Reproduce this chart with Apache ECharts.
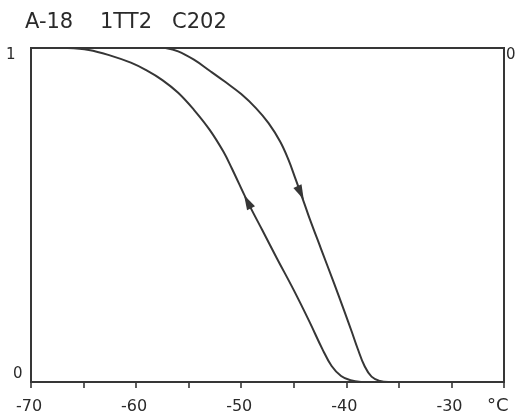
<!DOCTYPE html>
<html>
<head>
<meta charset="utf-8">
<script src="https://cdn.jsdelivr.net/npm/echarts@6/dist/echarts.min.js"></script>
<style>
  html, body { margin: 0; padding: 0; background: #ffffff; }
  #chart { width: 515px; height: 417px; }
</style>
</head>
<body>
<div id="chart"></div>
<script>
// Temperature axis (°C)
const xMin = -70;
const xMax = -25;
const xTickStep = 5;
const xTickLabels = [-70, -60, -50, -40, -30];

// Warming branch (arrow pointing up): temperature, normalised fraction
const warmTemp = [-66.5, -64.5, -62.5, -60.5, -59.0, -57.5, -56.0, -54.5, -53.0, -51.7, -50.9,
                  -49.4, -48.0, -46.6, -45.0, -43.5, -42.3, -41.4, -40.5, -39.6, -38.6];
const warmFrac = [1.0, 0.994, 0.978, 0.956, 0.933, 0.904, 0.866, 0.815, 0.755, 0.69, 0.64,
                  0.54, 0.455, 0.37, 0.275, 0.18, 0.10, 0.048, 0.018, 0.005, 0.0];

// Cooling branch (arrow pointing down)
const coolTemp = [-57.2, -56.0, -54.5, -53.0, -51.5, -50.0, -48.6, -47.4, -46.3, -45.5,
                  -44.8, -44.0, -43.5, -42.4, -41.2, -40.2, -39.5, -38.9, -38.3, -37.6, -36.8, -36.0];
const coolFrac = [1.0, 0.99, 0.965, 0.932, 0.898, 0.862, 0.82, 0.775, 0.72, 0.665,
                  0.605, 0.535, 0.49, 0.398, 0.298, 0.213, 0.152, 0.098, 0.05, 0.016, 0.003, 0.0];

// Arrow heads placed on each branch
const warmArrow = [-49.4, 0.54];
const coolArrow = [-44.35, 0.566];

const ink = '#363636';
const textInk = '#2a2a2a';

function pairs(xs, ys) { return xs.map((x, i) => [x, ys[i]]); }

const chart = echarts.init(document.getElementById('chart'));
chart.setOption({
  backgroundColor: '#ffffff',
  animation: false,
  grid: {
    left: 31, top: 48, width: 473, height: 334,
    show: true, borderColor: ink, borderWidth: 2, backgroundColor: 'transparent'
  },
  xAxis: {
    type: 'value', min: xMin, max: xMax, interval: xTickStep,
    axisLine: { show: true, lineStyle: { color: ink, width: 2 } },
    axisTick: { show: true, inside: false, length: 6, lineStyle: { color: ink, width: 1.6 } },
    splitLine: { show: false },
    axisLabel: {
      show: true, margin: 17, color: textInk, fontFamily: 'DejaVu Sans', fontSize: 16,
      padding: [0, 4, 0, 0],
      formatter: v => (xTickLabels.indexOf(v) >= 0 ? String(v) : '')
    }
  },
  yAxis: {
    type: 'value', min: 0, max: 1, interval: 1,
    axisLine: { show: false }, axisTick: { show: false },
    splitLine: { show: false }, axisLabel: { show: false }
  },
  graphic: [
    { type: 'text', left: 25, top: 12, style: { text: 'A-18', font: '21px "DejaVu Sans"', fill: textInk } },
    { type: 'text', left: 100, top: 12, style: { text: '1TT2', font: '21px "DejaVu Sans"', fill: textInk } },
    { type: 'text', left: 172, top: 12, style: { text: 'C202', font: '21px "DejaVu Sans"', fill: textInk } },
    { type: 'text', left: 6, top: 48, style: { text: '1', font: '15px "DejaVu Sans"', fill: textInk } },
    { type: 'text', left: 13, top: 367, style: { text: '0', font: '15px "DejaVu Sans"', fill: textInk } },
    { type: 'text', left: 506, top: 48, style: { text: '0', font: '15px "DejaVu Sans"', fill: textInk } },
    { type: 'text', left: 487, top: 397, style: { text: '°C', font: '18px "DejaVu Sans"', fill: textInk } }
  ],
  series: [
    {
      type: 'line', data: pairs(warmTemp, warmFrac), smooth: 0.4, showSymbol: false,
      lineStyle: { color: ink, width: 2 }, z: 3,
      markPoint: {
        symbol: 'triangle', symbolSize: [9, 15], symbolRotate: 28,
        itemStyle: { color: ink }, label: { show: false },
        data: [{ coord: warmArrow }]
      }
    },
    {
      type: 'line', data: pairs(coolTemp, coolFrac), smooth: 0.4, showSymbol: false,
      lineStyle: { color: ink, width: 2 }, z: 3,
      markPoint: {
        symbol: 'triangle', symbolSize: [9, 15], symbolRotate: 205,
        itemStyle: { color: ink }, label: { show: false },
        data: [{ coord: coolArrow }]
      }
    }
  ]
});
</script>
</body>
</html>
